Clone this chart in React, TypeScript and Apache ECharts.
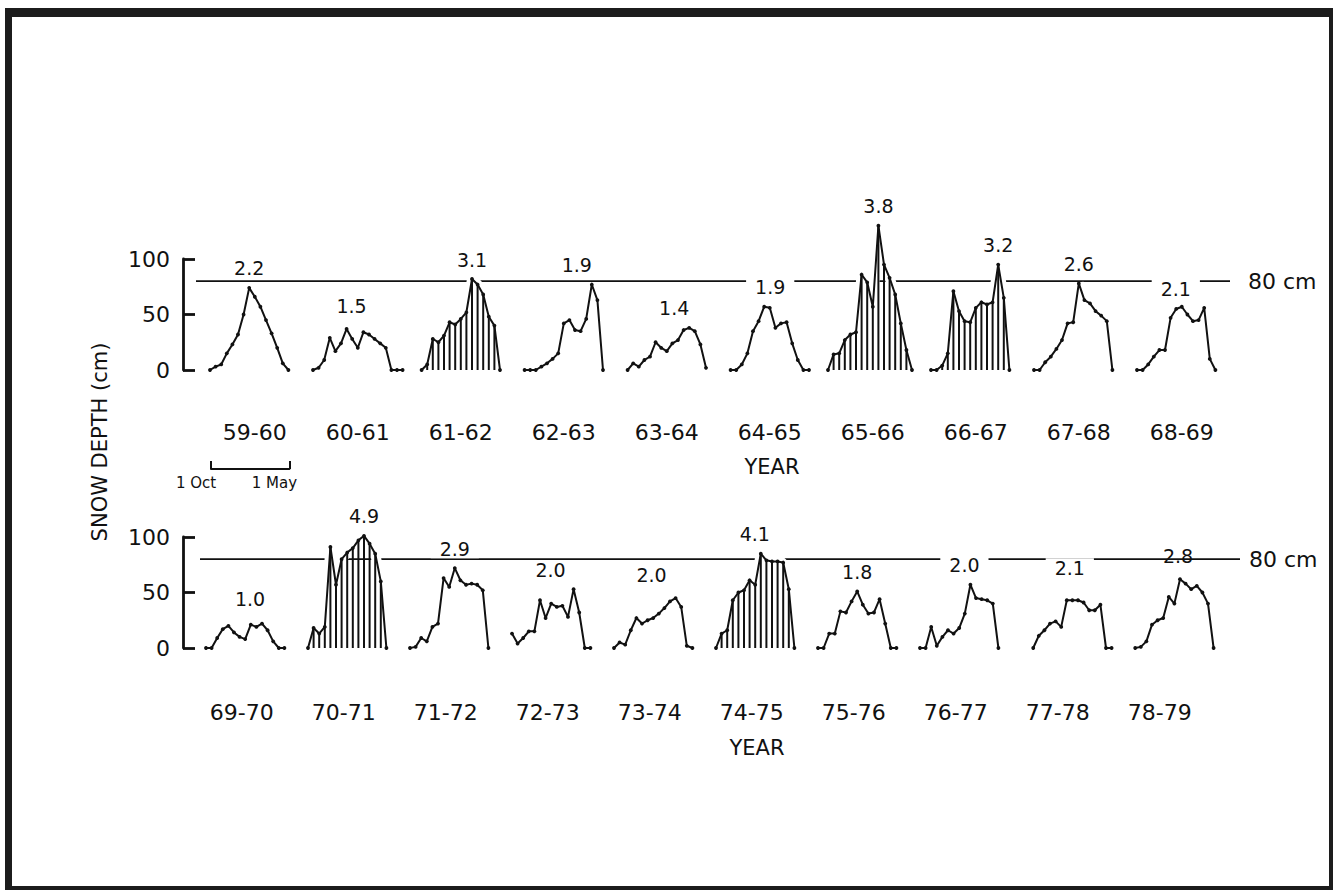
import React, { useEffect, useRef } from "react";
import * as echarts from "echarts";

// ---------- data ----------
const TOP_SEASONS = ["59-60", "60-61", "61-62", "62-63", "63-64", "64-65", "65-66", "66-67", "67-68", "68-69"];
const BOTTOM_SEASONS = ["69-70", "70-71", "71-72", "72-73", "73-74", "74-75", "75-76", "76-77", "77-78", "78-79"];
const TOP_INDEX = [2.2, 1.5, 3.1, 1.9, 1.4, 1.9, 3.8, 3.2, 2.6, 2.1];
const BOTTOM_INDEX = [1.0, 4.9, 2.9, 2.0, 2.0, 4.1, 1.8, 2.0, 2.1, 2.8];
const HATCHED = ["61-62", "65-66", "66-67", "70-71", "74-75"];

// snow depth (cm), one value per half month from 1 Oct; null = no reading
const D59_60 = [0, 3, 5, 15, 23, 32, 50, 74, 66, 57, 45, 33, 20, 6, 0];
const D60_61 = [0, 2, 9, 29, 17, 24, 37, 28, 20, 34, 32, 28, 24, 20, 0, 0, 0];
const D61_62 = [null, 0, 5, 28, 25, 31, 43, 41, 46, 52, 82, 77, 68, 48, 40, 0];
const D62_63 = [null, 0, 0, 0, 3, 6, 10, 15, 42, 45, 36, 35, 46, 77, 63, 0];
const D63_64 = [null, 0, 6, 3, 9, 12, 25, 20, 17, 24, 27, 36, 38, 35, 23, 2];
const D64_65 = [null, 0, 0, 5, 15, 35, 44, 57, 56, 38, 42, 43, 24, 9, 0, 0];
const D65_66 = [0, 14, 15, 27, 32, 34, 86, 79, 57, 130, 95, 83, 68, 42, 18, 0];
const D66_67 = [0, 0, 4, 15, 71, 53, 44, 43, 56, 61, 59, 61, 95, 65, 0];
const D67_68 = [0, 0, 7, 12, 19, 27, 42, 43, 78, 63, 60, 53, 49, 44, 0];
const D68_69 = [0, 0, 5, 12, 18, 18, 47, 55, 57, 50, 44, 45, 56, 10, 0];

const D69_70 = [0, 0, 9, 17, 20, 14, 10, 8, 21, 19, 22, 16, 6, 0, 0];
const D70_71 = [0, 18, 13, 19, 91, 57, 80, 86, 90, 97, 101, 94, 85, 60, 0];
const D71_72 = [0, 1, 9, 6, 19, 22, 63, 55, 72, 61, 57, 58, 57, 52, 0];
const D72_73 = [13, 4, 9, 15, 15, 43, 27, 40, 37, 38, 28, 53, 32, 0, 0];
const D73_74 = [0, 5, 3, 16, 27, 22, 25, 27, 31, 36, 42, 45, 37, 2, 0];
const D74_75 = [0, 13, 16, 43, 50, 52, 61, 57, 85, 79, 78, 78, 77, 53, 0];
const D75_76 = [0, 0, 13, 13, 33, 32, 42, 51, 39, 31, 32, 44, 22, 0, 0];
const D76_77 = [0, 0, 19, 2, 10, 16, 13, 18, 31, 57, 45, 44, 43, 40, 0];
const D77_78 = [null, null, 0, 11, 16, 22, 24, 19, 43, 43, 43, 41, 34, 34, 39, 0, 0];
const D78_79 = [null, null, 0, 1, 6, 21, 25, 27, 46, 40, 62, 58, 53, 56, 50, 40, 0];

const TOP_DEPTHS = [D59_60, D60_61, D61_62, D62_63, D63_64, D64_65, D65_66, D66_67, D67_68, D68_69];
const BOTTOM_DEPTHS = [D69_70, D70_71, D71_72, D72_73, D73_74, D74_75, D75_76, D76_77, D77_78, D78_79];

const Y_TICK_STEP = 50;
const Y_TICK_MAX = 100;
const THRESHOLD_CM = 80;
const THRESHOLD_LABEL = "80 cm";
const SCALE_LABELS = ["1 Oct", "1 May"];
const SCALE_SPAN = 14; // half-months from 1 Oct to 1 May
const Y_TITLE = "SNOW DEPTH (cm)";
const X_TITLE = "YEAR";

// ---------- layout / style ----------
const FONT = "'DejaVu Sans', 'Noto Sans', sans-serif";
const INK = "#111111";
const PX_PER_CM = 1.11;
const STEP = 5.6;
const Y_MAX = 140;
const X_MAX = 16;

// small label nudges (layout only)
const LABEL_NUDGE: Record<string, number[]> = {
  "60-61": [5, -4],
  "62-63": [-15, 0],
  "63-64": [-15, 0],
  "64-65": [6, 0],
  "68-69": [-6, 2],
  "69-70": [-12, -5],
  "72-73": [-23, 0],
  "73-74": [-24, -4],
  "74-75": [-6, 0],
  "76-77": [-6, 0],
  "77-78": [3, -13],
  "78-79": [-2, -4],
};
const LABEL_NO_BG = ["78-79"];

const ROWS = [
  {
    zero: 370, x0: 210, dx: 103, seasons: TOP_SEASONS, depths: TOP_DEPTHS, index: TOP_INDEX,
    lineLeft: 196, lineRight: 1230, endGap: 18, nameGap: 51, namePad: 0, year: [772, 467],
  },
  {
    zero: 648, x0: 206, dx: 102, seasons: BOTTOM_SEASONS, depths: BOTTOM_DEPTHS, index: BOTTOM_INDEX,
    lineLeft: 200, lineRight: 1240, endGap: 9, nameGap: 53, namePad: 18, year: [757, 748],
  },
];

function buildOption() {
  const grids: any[] = [];
  const xAxes: any[] = [];
  const yAxes: any[] = [];
  const series: any[] = [];
  const hidden = { show: false };

  ROWS.forEach((row) => {
    const height = Y_MAX * PX_PER_CM;
    const top = row.zero - height;

    // 80 cm reference line
    let gi = grids.length;
    grids.push({ left: row.lineLeft, top, width: row.lineRight - row.lineLeft, height });
    xAxes.push({ gridIndex: gi, type: "value", min: 0, max: 1, show: false });
    yAxes.push({ gridIndex: gi, type: "value", min: 0, max: Y_MAX, show: false });
    series.push({
      type: "line",
      xAxisIndex: gi,
      yAxisIndex: gi,
      data: [[0, THRESHOLD_CM], [1, THRESHOLD_CM]],
      symbol: "none",
      silent: true,
      z: 1,
      lineStyle: { color: INK, width: 1.7 },
      endLabel: {
        show: true,
        formatter: THRESHOLD_LABEL,
        distance: row.endGap,
        fontSize: 22,
        color: INK,
        fontFamily: FONT,
      },
    });

    // depth bracket axis
    gi = grids.length;
    const bh = Y_TICK_MAX * PX_PER_CM;
    grids.push({ left: 183, top: row.zero - bh, width: 10, height: bh });
    xAxes.push({ gridIndex: gi, type: "value", min: 0, max: 1, show: false });
    yAxes.push({
      gridIndex: gi,
      type: "value",
      min: 0,
      max: Y_TICK_MAX,
      interval: Y_TICK_STEP,
      axisLine: { show: true, lineStyle: { color: INK, width: 2.8 } },
      axisTick: { show: true, inside: true, length: 12, lineStyle: { color: INK, width: 2.8 } },
      axisLabel: { show: true, margin: 13, fontSize: 22, color: INK, fontFamily: FONT },
      splitLine: hidden,
    });

    // season panels
    row.seasons.forEach((season, j) => {
      gi = grids.length;
      grids.push({ left: row.x0 + row.dx * j, top, width: X_MAX * STEP, height });
      xAxes.push({
        gridIndex: gi,
        type: "value",
        min: 0,
        max: X_MAX,
        axisLine: hidden,
        axisTick: hidden,
        axisLabel: hidden,
        splitLine: hidden,
        name: season,
        nameLocation: "middle",
        nameGap: row.nameGap,
        nameTextStyle: {
          fontSize: 22,
          color: INK,
          fontFamily: FONT,
          padding: [0, row.namePad, 0, 0],
        },
      });
      yAxes.push({ gridIndex: gi, type: "value", min: 0, max: Y_MAX, show: false });

      const pts: any[] = [];
      row.depths[j].forEach((v, i) => {
        if (v !== null && v !== undefined) pts.push([i, v]);
      });
      let peak = 0;
      pts.forEach((p, k) => {
        if (p[1] > pts[peak][1]) peak = k;
      });
      const nudge = LABEL_NUDGE[season] || [0, 0];
      const main: any[] = pts.map((p) => p);
      main[peak] = {
        value: pts[peak],
        label: {
          show: true,
          position: "top",
          distance: 8,
          offset: nudge,
          formatter: row.index[j].toFixed(1),
          fontSize: 19,
          color: INK,
          fontFamily: FONT,
          backgroundColor: LABEL_NO_BG.indexOf(season) >= 0 ? "transparent" : "#ffffff",
          padding: [0, 9],
        },
      };

      // white halo that breaks the 80 cm line where the curve passes it
      series.push({
        type: "line",
        xAxisIndex: gi,
        yAxisIndex: gi,
        data: pts,
        symbol: "none",
        silent: true,
        z: 2,
        lineStyle: { color: "#ffffff", width: 10 },
      });
      if (HATCHED.indexOf(season) >= 0) {
        series.push({
          type: "bar",
          xAxisIndex: gi,
          yAxisIndex: gi,
          data: pts,
          barWidth: 2,
          silent: true,
          z: 3,
          itemStyle: { color: INK },
        });
      }
      series.push({
        type: "line",
        xAxisIndex: gi,
        yAxisIndex: gi,
        data: main,
        symbol: "circle",
        symbolSize: 3.8,
        showAllSymbol: true,
        z: 4,
        itemStyle: { color: INK },
        lineStyle: { color: INK, width: 2 },
      });
    });
  });

  // 1 Oct - 1 May scale bracket
  const gi = grids.length;
  grids.push({ left: 211, top: 400, width: SCALE_SPAN * STEP, height: 69 });
  xAxes.push({
    gridIndex: gi,
    type: "value",
    min: 0,
    max: SCALE_SPAN,
    interval: SCALE_SPAN,
    axisLine: { show: true, lineStyle: { color: INK, width: 2 } },
    axisTick: { show: true, inside: true, length: 8, lineStyle: { color: INK, width: 2 } },
    axisLabel: {
      show: true,
      formatter: (v: number) => (v === 0 ? SCALE_LABELS[0] : SCALE_LABELS[1]),
      fontSize: 15,
      margin: 6,
      color: INK,
      fontFamily: FONT,
      padding: [0, 30, 0, 0],
    },
    splitLine: { show: false },
  });
  yAxes.push({ gridIndex: gi, type: "value", min: 0, max: 1, show: false });

  const graphic: any[] = [
    { type: "rect", shape: { x: 5, y: 8, width: 1328, height: 9 }, style: { fill: "#1c1c1c" } },
    { type: "rect", shape: { x: 5, y: 8, width: 7, height: 882 }, style: { fill: "#1c1c1c" } },
    { type: "rect", shape: { x: 1329, y: 8, width: 4, height: 882 }, style: { fill: "#1c1c1c" } },
    { type: "rect", shape: { x: 5, y: 886, width: 1328, height: 4 }, style: { fill: "#1c1c1c" } },
    {
      type: "text",
      x: 100,
      y: 442,
      rotation: Math.PI / 2,
      style: {
        text: Y_TITLE,
        fill: INK,
        fontSize: 21,
        fontFamily: FONT,
        align: "center",
        verticalAlign: "middle",
      },
    },
  ];
  ROWS.forEach((row) => {
    graphic.push({
      type: "text",
      x: row.year[0],
      y: row.year[1],
      style: {
        text: X_TITLE,
        fill: INK,
        fontSize: 21,
        fontFamily: FONT,
        align: "center",
        verticalAlign: "middle",
      },
    });
  });

  return {
    animation: false,
    backgroundColor: "#ffffff",
    grid: grids,
    xAxis: xAxes,
    yAxis: yAxes,
    series,
    graphic,
  };
}

export default function App() {
  const ref = useRef<HTMLDivElement>(null);
  useEffect(() => {
    if (!ref.current) return;
    const chart = echarts.init(ref.current, undefined, { renderer: "svg" });
    chart.setOption(buildOption());
    return () => chart.dispose();
  }, []);
  return (
    <div
      ref={ref}
      style={{ position: "absolute", left: 0, top: 0, width: 1335, height: 892, background: "#fff" }}
    />
  );
}
